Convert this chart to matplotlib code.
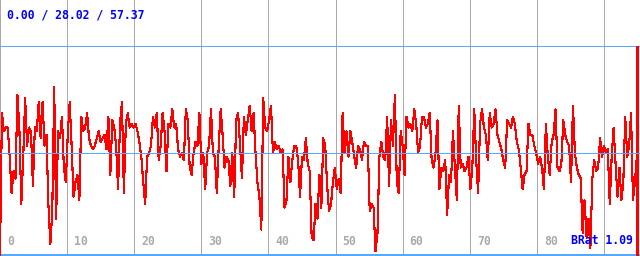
import numpy as np
import matplotlib
matplotlib.use("Agg")
import matplotlib.pyplot as plt

# ---- data ----
vals_a = [0, 39, 34, 35, 35, 27, 17, 23, 21, 44, 35, 14, 27, 43, 30, 35, 34, 19, 35, 34,
          42, 32, 42, 30, 33, 14, 3, 12, 46, 10, 34, 32, 38, 24, 20, 33, 42, 30, 16, 20,
          22, 15, 38, 34, 35, 39, 32, 30, 29, 30, 32, 34, 31, 32, 33]
vals_b = [29, 38, 22, 37, 35, 30, 18, 36, 42, 17, 36, 39, 35, 36, 35, 36, 34, 31, 27, 20,
          14, 27, 28, 30, 38, 35, 39, 26, 30, 39, 34, 23, 36, 35, 40, 35, 36, 29, 27, 28,
          26, 40, 37, 24, 22, 28, 31, 30, 39, 25, 28, 18, 28]
vals_c = [30, 40, 28, 27, 17, 30, 40, 33, 24, 27, 26, 19, 28, 16, 37, 39, 30, 21, 38, 33,
          37, 41, 34, 39, 28, 20, 16, 7, 43, 35, 34, 37, 41, 28, 31, 29, 30, 28, 29, 13,
          15, 27, 20, 26, 30, 30, 26, 16, 27, 26, 32, 25, 23, 5, 4]
vals_d = [14, 10, 22, 13, 32, 30, 19, 12, 14, 20, 24, 18, 21, 17, 39, 28, 34, 27, 34, 31,
          27, 24, 30, 29, 26, 31, 30, 30, 12, 14, 13, 1, 6, 27, 31, 27, 26, 38, 19, 37,
          30, 44, 20, 17, 34, 30, 22, 38, 35, 36, 34, 40, 36, 28, 30, 38]
vals_e = [38, 35, 36, 39, 26, 24, 28, 37, 18, 24, 23, 26, 11, 22, 20, 34, 24, 15, 41, 24,
          25, 23, 24, 27, 18, 24, 40, 26, 17, 36, 40, 35, 33, 26, 39, 35, 36, 40, 33, 31,
          29, 26, 24, 37, 36, 35, 38, 36, 31, 29, 24, 18, 22, 23, 36, 33]
vals_f = [33, 30, 28, 25, 27, 24, 18, 36, 27, 22, 31, 33, 40, 24, 23, 25, 37, 33, 31, 30,
          20, 41, 28, 24, 22, 21, 6, 15, 5, 10, 2, 21, 26, 23, 24, 32, 27, 30, 28, 29,
          14, 27, 35, 25, 16, 24, 15, 20, 38, 27, 30, 39, 15, 20, 27]

stat_min, stat_avg, stat_max = 0.00, 28.02, 57.37
brat = 1.09
grid_ticks = [0, 10, 20, 30, 40, 50, 60, 70, 80, 90]
label_ticks = [0, 10, 20, 30, 40, 50, 60, 70, 80]
x_end = 94.9  # last sample position (x units)

values = np.array(vals_a + vals_b + vals_c + vals_d + vals_e + vals_f, dtype=float)
xs = np.linspace(0, x_end, len(values))

# ---- figure ----
fig = plt.figure(figsize=(6.4, 2.56), dpi=100)
ax = fig.add_axes([0, 0, 1, 1])
ax.set_xlim(0, 95.37)
ax.set_ylim(-0.27, 70.0)
ax.axis("off")

grid_col = "#aaaaaa"
blue_line = "#55aaff"
for t in grid_ticks:
    ax.axvline(t, color=grid_col, lw=0.72, zorder=1, antialiased=False)
for t in label_ticks:
    ax.text(t + 1.05, 3.8, str(t), color=grid_col, fontsize=8.3,
            family="DejaVu Sans Mono", fontweight="bold", ha="left", va="center", zorder=5)

ax.axhline(stat_max, color=blue_line, lw=0.72, zorder=2, antialiased=False)
ax.axhline(stat_avg, color=blue_line, lw=0.72, zorder=4, antialiased=False)
ax.axhline(stat_min, color=blue_line, lw=1.0, zorder=2, antialiased=False)

ax.plot(xs, values, color="#ff0000", lw=0.8, zorder=3, antialiased=False)
ax.vlines(x_end, stat_min, stat_max, color="#ff0000", lw=0.8, zorder=3, antialiased=False)

ax.text(7 / 640, 1 - 15 / 256, f"{stat_min:.2f} / {stat_avg:.2f} / {stat_max:.2f}",
        transform=ax.transAxes, color="#0000ff", fontsize=8.3,
        family="DejaVu Sans Mono", fontweight="bold", ha="left", va="center", zorder=6)
ax.text(633 / 640, 1 - 241 / 256, f"BRat {brat:.2f}",
        transform=ax.transAxes, color="#0000ff", fontsize=8.3,
        family="DejaVu Sans Mono", fontweight="bold", ha="right", va="center", zorder=6)

fig.savefig("out.png", dpi=100, facecolor="white")
